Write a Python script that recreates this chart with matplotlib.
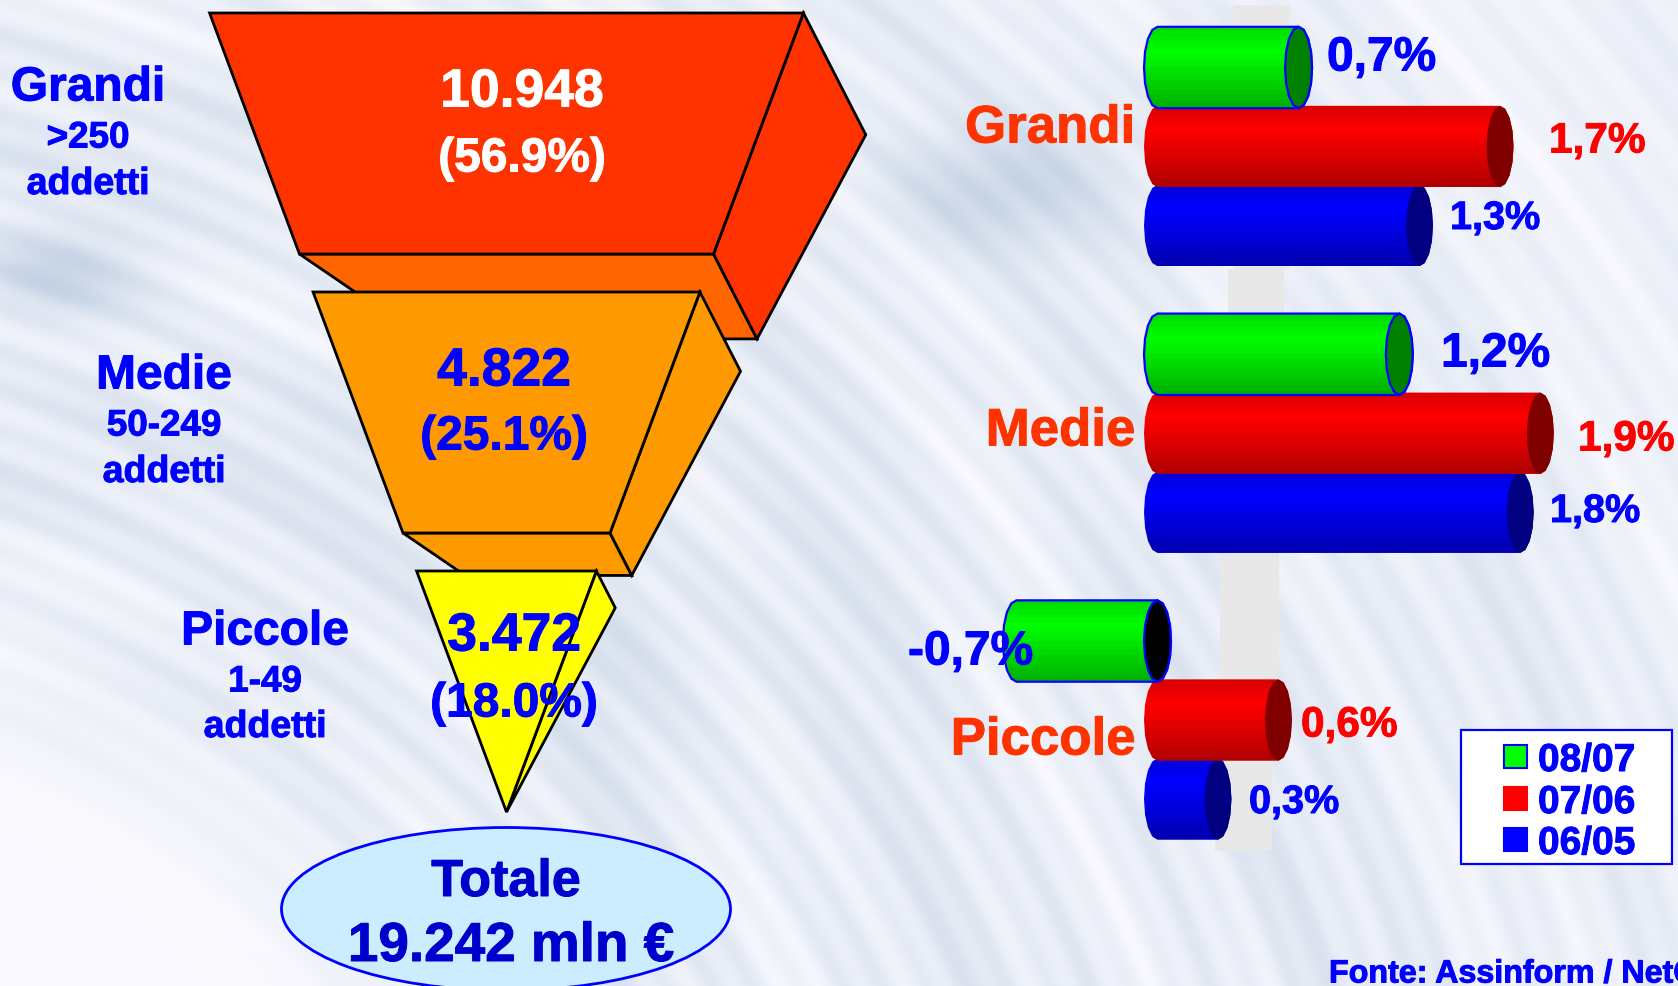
import numpy as np
import matplotlib
matplotlib.use("Agg")
import matplotlib.pyplot as plt
import matplotlib.patheffects as pe
from matplotlib.patches import Polygon, Ellipse, Rectangle

plt.rcParams['font.family'] = ['Liberation Sans', 'DejaVu Sans']
plt.rcParams['font.weight'] = 'bold'

# funnel data
sizes = ['Grandi', 'Medie', 'Piccole']
size_notes = ['>250', '50-249', '1-49']
amounts = ['10.948', '4.822', '3.472']
shares = ['(56.9%)', '(25.1%)', '(18.0%)']
total_label = '19.242 mln €'

# growth data, one array per period
periods = ['08/07', '07/06', '06/05']
growth_0807 = [0.7, 1.2, -0.7]
growth_0706 = [1.7, 1.9, 0.6]
growth_0605 = [1.3, 1.8, 0.3]

source = 'Fonte: Assinform / NetConsulting'

W, H = 1678, 987
BLUE = '#0000FF'
ORANGE_RED = '#FF3300'


def background():
    y, x = np.mgrid[0:H, 0:W]
    phi = np.hypot(x + 400.0, y - 1600.0)
    along = np.arctan2(x + 400.0, 1600.0 - y)
    streaks = (0.09 * np.sin(phi / 6.0 + 3 * np.sin(along * 4))
               + 0.09 * np.sin(phi / 17.0 + 1.0)
               + 0.08 * np.sin(phi / 52.0 + 2.0 + 2 * np.sin(along * 7)))
    shade = 0.28 + streaks
    # the few darker patches of the slide background
    for bx0, by0, sx, sy, amp in [(60, 275, 90, 50, 0.55), (1000, 190, 110, 60, 0.55),
                                  (1180, 120, 120, 90, 0.15), (620, 640, 180, 120, 0.15),
                                  (330, 560, 200, 120, 0.10), (1400, 550, 200, 300, 0.08)]:
        shade = shade + amp * np.exp(-((x - bx0) / sx) ** 2 - ((y - by0) / sy) ** 2)
    envelope = np.clip((phi - 880) / 260.0, 0, 1)
    envelope = envelope * (1 - 0.4 * np.clip((phi - 1800) / 700.0, 0, 1))
    shade = np.clip(shade, 0, 1) * envelope
    light = np.array([250, 250, 255]) / 255.0
    dark = np.array([188, 204, 224]) / 255.0
    return light + (dark - light) * shade[..., None]


fig = plt.figure(figsize=(W / 100, H / 100), dpi=100)

# pixel axes under everything: background, wall, funnel
ax = fig.add_axes([0, 0, 1, 1])
ax.imshow(background(), extent=(0, W, H, 0), aspect='auto', interpolation='bilinear')
ax.set_xlim(0, W)
ax.set_ylim(H, 0)
ax.axis('off')

# leftover of the chart wall behind the bars
for x0, x1, y0, y1 in [(1233, 1290, 6, 270), (1228, 1284, 270, 551),
                       (1220, 1279, 551, 762), (1215, 1272, 762, 852)]:
    ax.add_patch(Rectangle((x0, y0), x1 - x0, y1 - y0, fc='#E8E8E8', ec='none'))

# funnel: three layers of equal height, width falls linearly
funnel_colors = ['#FF3300', '#FF9900', '#FFFF00']
floor_colors = ['#FF6600', '#FF9900', '#FFFF00']
cx = 506.5
for i in range(len(sizes)):
    top = 14 + i * 279
    bot = top + 241
    w_top = (555 - 193.5 * i) * 1.07
    w_bot = (387 - 193.5 * i) * 1.07
    tl = (cx - w_top / 2, top)
    tr = (cx + w_top / 2, top)
    bl = (cx - w_bot / 2, bot)
    br = (cx + w_bot / 2, bot)
    side_a = (tr[0] + w_top * 0.105, top + w_top * 0.205)
    side_b = (br[0] + w_bot * 0.105, bot + w_bot * 0.205)
    back_l = (bl[0] + w_bot * 0.30, side_b[1])
    st = dict(ec='black', lw=2.0, joinstyle='miter', zorder=2 + i)
    ax.add_patch(Polygon([bl, br, side_b, back_l], fc=floor_colors[i], **st))
    ax.add_patch(Polygon([tr, side_a, side_b, br], fc=funnel_colors[i], **st))
    ax.add_patch(Polygon([tl, tr, br, bl], fc=funnel_colors[i], **st))

ax.add_patch(Ellipse((506, 910), 449, 163, fc='#CCECFF', ec=BLUE, lw=2, zorder=6))

# bars axes: x is the growth in %, y counts bar slots
px_per_unit = 201.5
x_zero = 1157.5
slot = 79.0
y_first = 68.5
bx = fig.add_axes([0, 0, 1, 1], facecolor='none')
xlim = ((0 - x_zero) / px_per_unit, (W - x_zero) / px_per_unit)
ylim = ((H - y_first) / slot, (0 - y_first) / slot)
cap = 13.5 / px_per_unit
bar_h = 1.03
group_step = 3.63

band_pos = [0.0, 0.3, 1.0]
band_val = [0.86, 1.0, 0.70]


def cylinder(x0, x1, yc, base, cap_color, edge, z):
    # coarse arc: the original ends are faceted, not smooth
    t = np.linspace(-np.pi / 2, np.pi / 2, 9)
    right = np.column_stack([x1 + cap * np.cos(t), yc + bar_h / 2 * np.sin(t)])
    left = np.column_stack([x0 - cap * np.cos(t[::-1]), yc + bar_h / 2 * np.sin(t[::-1])])
    body = Polygon(np.vstack([right, left]), closed=True, fc='none',
                   ec=edge if edge else 'none', lw=1.6, zorder=z + 0.2)
    bands = np.floor(np.linspace(0, 1, 200) * 18) / 17
    shade = np.interp(bands, band_pos, band_val)
    img = np.array(base)[None, None, :] * shade[:, None, None]
    bx.add_patch(body)
    im = bx.imshow(img, extent=(x0 - cap, x1 + cap, yc + bar_h / 2, yc - bar_h / 2),
                   aspect='auto', zorder=z, interpolation='nearest')
    im.set_clip_path(body)
    t2 = np.linspace(0, 2 * np.pi, 17)
    end = np.column_stack([x1 + cap * np.cos(t2), yc + bar_h / 2 * np.sin(t2)])
    bx.add_patch(Polygon(end, closed=True, fc=cap_color,
                         ec=edge if edge else 'none', lw=1.6, zorder=z + 0.3))


series = [growth_0807, growth_0706, growth_0605]
bases = [(0.0, 1.0, 0.0), (1.0, 0.0, 0.0), (0.0, 0.0, 1.0)]
caps = ['#008000', '#800000', '#000080']
for g in range(3):
    for b in range(3):
        v = series[b][g]
        x0, x1 = min(v, 0), max(v, 0)
        cap_color = 'black' if v < 0 else caps[b]
        cylinder(x0, x1, g * group_step + b, bases[b], cap_color,
                 BLUE if b == 0 else None, 10 - b)
bx.set_xlim(*xlim)
bx.set_ylim(*ylim)
bx.axis('off')

# text goes on top of everything
tx = fig.add_axes([0, 0, 1, 1], facecolor='none')
tx.set_xlim(0, W)
tx.set_ylim(H, 0)
tx.axis('off')


def put(x, y, s, size, color=BLUE, ha='center'):
    t = tx.text(x, y, s, fontsize=size, color=color, ha=ha, va='center_baseline')
    # Arial bold in the slide is a little heavier
    t.set_path_effects([pe.withStroke(linewidth=0.7, foreground=color)])
    return t


amount_pos = [(522, 88, 155), (504, 367, 433), (514, 632, 700)]
amount_col = ['white', BLUE, BLUE]
left_pos = [(88, 84, 135, 181), (164, 372, 423, 469), (265, 628, 679, 724)]
right_y = [124, 427, 736]
for i in range(3):
    x, y1, y2 = amount_pos[i]
    put(x, y1, amounts[i], 38.5, amount_col[i])
    put(x, y2, shares[i], 34.5, amount_col[i])
    x, y1, y2, y3 = left_pos[i]
    put(x, y1, sizes[i], 34.5)
    put(x, y2, size_notes[i], 26.5)
    put(x, y3, 'addetti', 27)
    put(1135, right_y[i], sizes[i], 38, ORANGE_RED, ha='right')

put(506, 878, 'Totale', 37.5, '#0000CC')
put(511, 942, total_label, 39.5, '#0000CC')


def pct(v):
    return f'{v:.1f}%'.replace('.', ',')


# value labels were placed by hand in the original slide
label_pos = [[(1327, 54), (1441, 350), (908, 648)],
             [(1549, 138), (1578, 436), (1301, 722)],
             [(1450, 215), (1550, 508), (1249, 799)]]
label_size = [34.5, 30.5, 28.5]
label_col = [BLUE, '#FF0000', BLUE]
for b in range(3):
    for g in range(3):
        x, y = label_pos[b][g]
        put(x, y, pct(series[b][g]), label_size[b], label_col[b], ha='left')

# legend box
tx.add_patch(Rectangle((1461, 731), 211, 134, fc='white', ec=BLUE, lw=1.6))
legend_y = [758, 800, 841]
legend_col = ['#00FF00', '#FF0000', '#0000FF']
for i in range(3):
    tx.add_patch(Rectangle((1504, legend_y[i] - 12), 23, 23, fc=legend_col[i],
                           ec=BLUE if i == 0 else legend_col[i], lw=1.5))
    put(1538, legend_y[i], periods[i], 28, ha='left')

# the source runs off the right edge in the original too
put(1329, 972, source, 23.2, ha='left')

fig.savefig('out.png', dpi=100)
